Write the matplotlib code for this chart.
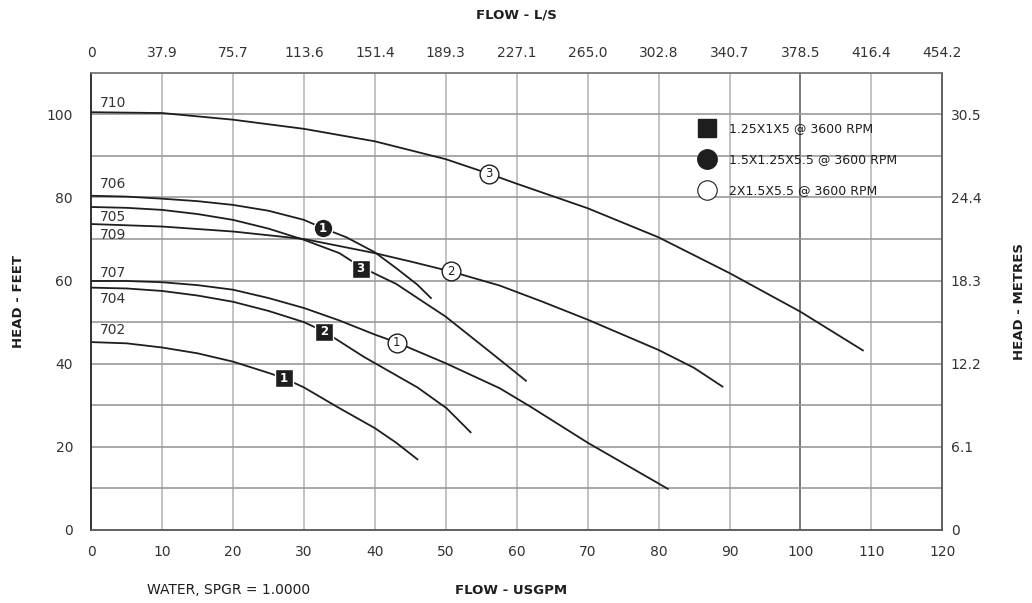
"""Pump performance curves: head vs flow for three pump sizes at 3600 rpm."""

import matplotlib

matplotlib.use("Agg")
import matplotlib.pyplot as plt
from matplotlib.lines import Line2D

# --- data (flow in USGPM, head in feet) ---
flow_702 = [0, 5, 10, 15, 20, 25, 27.2, 30, 34.6, 40, 43, 46]
head_702 = [45.2, 44.9, 43.9, 42.5, 40.5, 37.8, 36.5, 34.3, 29.7, 24.5, 21.0, 17.0]

flow_704 = [0, 5, 10, 15, 20, 25, 30, 32.9, 38.4, 42.1, 46, 50.1, 53.5]
head_704 = [58.3, 58.1, 57.5, 56.4, 54.9, 52.7, 50.0, 47.7, 41.7, 38.1, 34.3, 29.3, 23.5]

flow_705 = [0, 5, 10, 15, 20, 25, 30, 35, 38, 43, 50, 57, 61.3]
head_705 = [77.7, 77.5, 77.0, 76.0, 74.6, 72.5, 69.8, 66.6, 63.3, 59.2, 51.3, 41.8, 35.9]

flow_706 = [0, 5, 10, 15, 20, 25, 30, 32.7, 36, 40, 43, 46, 47.9]
head_706 = [80.4, 80.2, 79.7, 79.1, 78.2, 76.8, 74.6, 72.6, 70.4, 66.8, 63.0, 59.0, 55.8]

flow_707 = [0, 5, 10, 15, 20, 25, 30, 35, 40, 43.1, 50, 57.6, 62, 70, 81.3]
head_707 = [59.9, 59.9, 59.6, 58.9, 57.8, 55.8, 53.4, 50.4, 47.0, 45.1, 40.1, 34.1, 29.6, 21.0, 9.9]

flow_709 = [0, 10, 20, 30, 40, 45, 50.7, 57.6, 63.5, 70, 80, 85, 89]
head_709 = [73.6, 73.0, 71.8, 70.0, 66.6, 64.6, 62.2, 58.8, 55.0, 50.6, 43.3, 39.0, 34.5]

flow_710 = [0, 10, 20, 30, 40, 50, 56.1, 60, 70, 80, 90, 100, 108.8]
head_710 = [100.5, 100.3, 98.7, 96.5, 93.5, 89.2, 85.7, 83.3, 77.4, 70.4, 61.8, 52.5, 43.2]

curve_names = ["702", "704", "705", "706", "707", "709", "710"]
curve_flows = [flow_702, flow_704, flow_705, flow_706, flow_707, flow_709, flow_710]
curve_heads = [head_702, head_704, head_705, head_706, head_707, head_709, head_710]
name_heads = [48.0, 55.5, 75.3, 83.3, 61.8, 71.0, 102.7]

# impeller markers: (model, number, flow, head)
marker_model = ["sq", "sq", "sq", "fc", "oc", "oc", "oc"]
marker_num = ["1", "2", "3", "1", "1", "2", "3"]
marker_flow = [27.2, 32.9, 38.0, 32.7, 43.1, 50.7, 56.1]
marker_head = [36.5, 47.7, 62.9, 72.6, 45.1, 62.2, 85.7]

legend_labels = [
    "1.25X1X5 @ 3600 RPM",
    "1.5X1.25X5.5 @ 3600 RPM",
    "2X1.5X5.5 @ 3600 RPM",
]

usgpm_ticks = list(range(0, 130, 10))
ls_labels = ["0", "37.9", "75.7", "113.6", "151.4", "189.3", "227.1",
             "265.0", "302.8", "340.7", "378.5", "416.4", "454.2"]
feet_ticks = [0, 20, 40, 60, 80, 100]
metre_labels = ["0", "6.1", "12.2", "18.3", "24.4", "30.5"]

INK = "#1e1e1e"
TICK = "#333333"

fig = plt.figure(figsize=(10.32, 6.03), dpi=100)
ax = fig.add_axes([0.0883, 0.1211, 0.8248, 0.7583])
ax.set_xlim(0, 120)
ax.set_ylim(0, 110)

# grid
for xv in range(10, 120, 10):
    color = "#6e6e6e" if xv == 100 else "#bdbdbd"
    ax.axvline(xv, color=color, lw=1.3, zorder=0)
for yv in range(10, 110, 10):
    ax.axhline(yv, color="#9a9a9a", lw=1.2, zorder=0)

for side, color in [("left", "#222222"), ("bottom", "#555555"),
                    ("right", "#555555"), ("top", "#777777")]:
    ax.spines[side].set_color(color)
    ax.spines[side].set_linewidth(1.3)

# curves and their names
for name, q, h, nh in zip(curve_names, curve_flows, curve_heads, name_heads):
    ax.plot(q, h, color=INK, lw=1.3, zorder=2)
    ax.text(1.25, nh, name, fontsize=10, color=TICK, va="center", ha="left")

# impeller markers
style = {
    "sq": dict(marker="s", mfc=INK, mec="white", ms=12.5, txt="white", weight="bold"),
    "fc": dict(marker="o", mfc=INK, mec="white", ms=13.5, txt="white", weight="bold"),
    "oc": dict(marker="o", mfc="white", mec=INK, ms=13.5, txt=INK, weight="normal"),
}
for model, num, q, h in zip(marker_model, marker_num, marker_flow, marker_head):
    st = style[model]
    ax.plot(q, h, marker=st["marker"], ms=st["ms"], mfc=st["mfc"],
            mec=st["mec"], mew=1.0, ls="none", zorder=4)
    ax.text(q, h, num, fontsize=8.5, color=st["txt"], weight=st["weight"],
            ha="center", va="center", zorder=5)

# legend
handles = [
    Line2D([], [], marker="s", ms=12.5, mfc=INK, mec=INK, ls="none"),
    Line2D([], [], marker="o", ms=14, mfc=INK, mec=INK, ls="none"),
    Line2D([], [], marker="o", ms=14, mfc="white", mec=INK, mew=0.8, ls="none"),
]
leg = ax.legend(handles, legend_labels, loc="upper left",
                bbox_to_anchor=(0.7075, 0.903), frameon=False, fontsize=9,
                labelspacing=1.45, handletextpad=1.05, handlelength=1.4,
                borderaxespad=0)
for t in leg.get_texts():
    t.set_color(INK)

# bottom / left ticks
ax.set_xticks(usgpm_ticks)
ax.set_yticks(feet_ticks)
ax.tick_params(axis="both", length=0, labelsize=10, labelcolor=TICK)
ax.tick_params(axis="x", pad=11)
ax.tick_params(axis="y", pad=13)

# top axis in L/S
top = ax.secondary_xaxis("top")
top.set_xticks(usgpm_ticks)
top.set_xticklabels(ls_labels)
top.tick_params(length=0, labelsize=10, labelcolor=TICK, pad=9)
top.spines["top"].set_visible(False)

# right axis in metres
right = ax.secondary_yaxis("right")
right.set_yticks(feet_ticks)
right.set_yticklabels(metre_labels)
right.tick_params(length=0, labelsize=10, labelcolor=TICK, pad=6)
right.spines["right"].set_visible(False)

# axis titles
fig.text(0.5005, 0.975, "FLOW - L/S", ha="center", va="center",
         fontsize=9.5, weight="bold", color=INK)
fig.text(0.495, 0.021, "FLOW - USGPM", ha="center", va="center",
         fontsize=9.5, weight="bold", color=INK)
fig.text(0.142, 0.021, "WATER, SPGR = 1.0000", ha="left", va="center",
         fontsize=10, color=INK)
fig.text(0.0175, 0.5, "HEAD - FEET", rotation=90, ha="center", va="center",
         fontsize=9.5, weight="bold", color=INK)
fig.text(0.988, 0.5, "HEAD - METRES", rotation=90, ha="center", va="center",
         fontsize=9.5, weight="bold", color=INK)

fig.savefig("out.png", dpi=100)
